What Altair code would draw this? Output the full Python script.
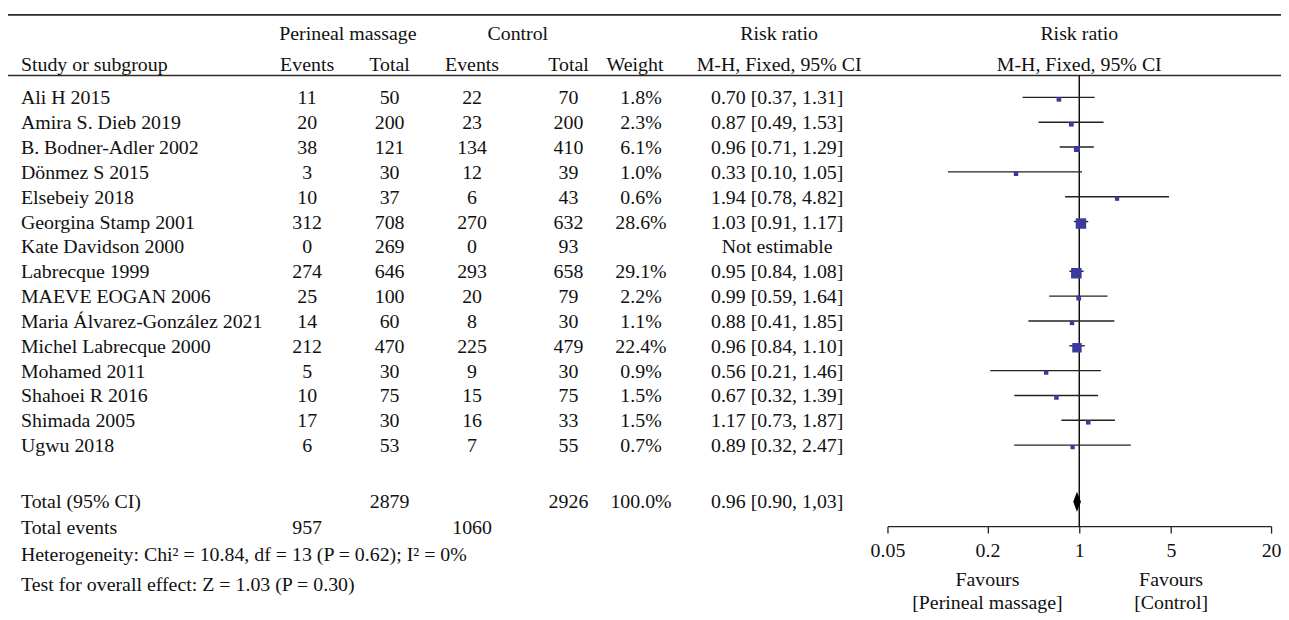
import altair as alt
import pandas as pd

# ---------------- data ----------------
studies = ["Ali H 2015", "Amira S. Dieb 2019", "B. Bodner-Adler 2002", "Dönmez S 2015",
           "Elsebeiy 2018", "Georgina Stamp 2001", "Kate Davidson 2000", "Labrecque 1999",
           "MAEVE EOGAN 2006", "Maria Álvarez-González 2021", "Michel Labrecque 2000",
           "Mohamed 2011", "Shahoei R 2016", "Shimada 2005", "Ugwu 2018"]
pm_events = [11, 20, 38, 3, 10, 312, 0, 274, 25, 14, 212, 5, 10, 17, 6]
pm_total = [50, 200, 121, 30, 37, 708, 269, 646, 100, 60, 470, 30, 75, 30, 53]
c_events = [22, 23, 134, 12, 6, 270, 0, 293, 20, 8, 225, 9, 15, 16, 7]
c_total = [70, 200, 410, 39, 43, 632, 93, 658, 79, 30, 479, 30, 75, 33, 55]
weight = [1.8, 2.3, 6.1, 1.0, 0.6, 28.6, None, 29.1, 2.2, 1.1, 22.4, 0.9, 1.5, 1.5, 0.7]
rr = [0.70, 0.87, 0.96, 0.33, 1.94, 1.03, None, 0.95, 0.99, 0.88, 0.96, 0.56, 0.67, 1.17, 0.89]
rr_lo = [0.37, 0.49, 0.71, 0.10, 0.78, 0.91, None, 0.84, 0.59, 0.41, 0.84, 0.21, 0.32, 0.73, 0.32]
rr_hi = [1.31, 1.53, 1.29, 1.05, 4.82, 1.17, None, 1.08, 1.64, 1.85, 1.10, 1.46, 1.39, 1.87, 2.47]

total_label = "Total (95% CI)"
total_pm = 2879
total_c = 2926
total_weight = "100.0%"
pooled = [0.90, 0.96, 1.03]          # lower, estimate, upper
pooled_text = "0.96 [0.90, 1,03]"
events_label = "Total events"
events_pm = 957
events_c = 1060
het_text = "Heterogeneity: Chi² = 10.84, df = 13 (P = 0.62); I² = 0%"
test_text = "Test for overall effect: Z = 1.03 (P = 0.30)"

head_top = ["Perineal massage", "Control", "Risk ratio"]
head_sub = ["Study or subgroup", "Events", "Total", "Events", "Total", "Weight", "M-H, Fixed, 95% CI"]
plot_head = ["Risk ratio", "M-H, Fixed, 95% CI"]
tick_labels = ["0.05", "0.2", "1", "5", "20"]
favours_at = [0.2, 5]
favours_top = ["Favours", "Favours"]
favours_bottom = ["[Perineal massage]", "[Control]"]

# ---------------- layout / style ----------------
FONT = "Liberation Serif"
FS = 20
TXT = "#111111"
LINE = "#222222"
W, H = 1281, 606
AXIS_Y = 519.5
ROW_TOTAL, ROW_EVENTS, ROW_HET, ROW_TEST = 16.24, 17.28, 18.4, 19.6
COLS = {"pm_e": 301, "pm_t": 384, "c_e": 467, "c_t": 564, "w": 637, "rrt": 774}
HEAD_TOP_X = [342, 513, 776]
HEAD_SUB_X = [13, 301, 384, 467, 564, 631, 776]
Y_TOP, Y_SUB = 24, 55

LOG_END = 1.46
tick_vals = [10 ** -LOG_END, 0.2, 1, 5, 10 ** LOG_END]
label_expr = (f"datum.value < 0.1 ? '{tick_labels[0]}' : datum.value < 0.5 ? '{tick_labels[1]}' : "
              f"datum.value < 2 ? '{tick_labels[2]}' : datum.value < 10 ? '{tick_labels[3]}' : '{tick_labels[4]}'")

yscale = alt.Scale(domain=[0, 14], range=[89, 439], nice=False, zero=False)
xscale = alt.Scale(type="log", domain=[10 ** -LOG_END, 10 ** LOG_END], range=[885, 1271], nice=False)
xaxis = alt.Axis(values=tick_vals, labelExpr=label_expr, title=None, grid=False,
                 offset=-(H - AXIS_Y), domainColor=LINE, domainWidth=1.3, tickColor=LINE,
                 tickWidth=1.3, tickSize=7, labelFont=FONT, labelFontSize=FS, labelColor=TXT,
                 labelPadding=8, labelFlush=False, labelOverlap=False)

# ---------------- tables ----------------
df = pd.DataFrame({
    "row": list(range(len(studies))),
    "label": studies,
    "pm_e": [str(v) for v in pm_events],
    "pm_t": [str(v) for v in pm_total],
    "c_e": [str(v) for v in c_events],
    "c_t": [str(v) for v in c_total],
    "w": ["" if v is None else f"{v:.1f}%" for v in weight],
    "rrt": ["Not estimable" if r is None else f"{r:.2f} [{l:.2f}, {h:.2f}]"
            for r, l, h in zip(rr, rr_lo, rr_hi)],
    "weight": weight, "rr": rr, "lo": rr_lo, "hi": rr_hi,
})
tot = pd.DataFrame({
    "row": [ROW_TOTAL, ROW_EVENTS],
    "label": [total_label, events_label],
    "pm_e": ["", str(events_pm)],
    "pm_t": [str(total_pm), ""],
    "c_e": ["", str(events_c)],
    "c_t": [str(total_c), ""],
    "w": [total_weight, ""],
    "rrt": [pooled_text, ""],
})
table = pd.concat([df[list(tot.columns)], tot], ignore_index=True)
forest = df.dropna(subset=["rr"]).copy()
notes = pd.DataFrame({"row": [ROW_HET, ROW_TEST], "label": [het_text, test_text]})
dia = pd.DataFrame({"x": pooled,
                    "ytop": [ROW_TOTAL, ROW_TOTAL - 0.4, ROW_TOTAL],
                    "ybot": [ROW_TOTAL, ROW_TOTAL + 0.4, ROW_TOTAL]})
fav = pd.DataFrame({"x": favours_at, "t1": favours_top, "t2": favours_bottom})
one = pd.DataFrame({"a": [0]})

Y = alt.Y("row:Q", scale=yscale, axis=None)


def text_mark(data, field, x, align="center"):
    return alt.Chart(data).mark_text(font=FONT, fontSize=FS, align=align, baseline="middle",
                                     color=TXT).encode(x=alt.value(x), y=Y, text=f"{field}:N")


layers = []
# horizontal rules of the table
for yy in (5, 66):
    layers.append(alt.Chart(one).mark_rule(color="#2b2b2b", strokeWidth=1.6).encode(
        x=alt.value(0), x2=alt.value(W), y=alt.value(yy)))

# headers
for lab, xx in zip(head_top, HEAD_TOP_X):
    layers.append(alt.Chart(pd.DataFrame({"t": [lab]})).mark_text(
        font=FONT, fontSize=FS, align="center", baseline="middle", color=TXT).encode(
        x=alt.value(xx), y=alt.value(Y_TOP), text="t:N"))
for i, (lab, xx) in enumerate(zip(head_sub, HEAD_SUB_X)):
    layers.append(alt.Chart(pd.DataFrame({"t": [lab]})).mark_text(
        font=FONT, fontSize=FS, align="left" if i == 0 else "center", baseline="middle",
        color=TXT).encode(x=alt.value(xx), y=alt.value(Y_SUB), text="t:N"))
for lab, yy in zip(plot_head, (Y_TOP, Y_SUB)):
    layers.append(alt.Chart(pd.DataFrame({"t": [lab]})).mark_text(
        font=FONT, fontSize=FS, align="center", baseline="middle", color=TXT).encode(
        x=alt.datum(1), y=alt.value(yy), text="t:N"))

# table body
layers.append(text_mark(table, "label", 13, "left"))
for col, xx in COLS.items():
    layers.append(text_mark(table, col, xx))
layers.append(text_mark(notes, "label", 13, "left"))

# forest plot
layers.append(alt.Chart(one).mark_rule(color="#111111", strokeWidth=1.5).encode(
    x=alt.datum(1), y=alt.value(66), y2=alt.value(AXIS_Y)))
layers.append(alt.Chart(forest).mark_rule(color=LINE, strokeWidth=1.4, yOffset=-1).encode(
    x=alt.X("lo:Q", scale=xscale, axis=xaxis), x2="hi:Q", y=Y))
layers.append(alt.Chart(forest).mark_square(color="#3a3a9c", opacity=1, yOffset=1).encode(
    x=alt.X("rr:Q", scale=xscale, axis=xaxis), y=Y,
    size=alt.Size("weight:Q", scale=alt.Scale(domain=[0, 30], range=[16, 115]), legend=None)))
layers.append(alt.Chart(dia).mark_area(color="#000000", opacity=1).encode(
    x=alt.X("x:Q", scale=xscale, axis=xaxis),
    y=alt.Y("ytop:Q", scale=yscale, axis=None), y2="ybot:Q"))

# favours labels
for field, yy in (("t1", 574), ("t2", 597)):
    layers.append(alt.Chart(fav).mark_text(font=FONT, fontSize=FS, align="center",
                                           baseline="middle", color=TXT).encode(
        x=alt.X("x:Q", scale=xscale, axis=xaxis), y=alt.value(yy), text=f"{field}:N"))

chart = alt.layer(*layers).properties(
    width=W, height=H, padding=0,
    autosize=alt.AutoSizeParams(type="none"),
    background="white",
).configure_view(stroke=None)

chart.save("out.html", embed_options={"renderer": "svg", "actions": False})
